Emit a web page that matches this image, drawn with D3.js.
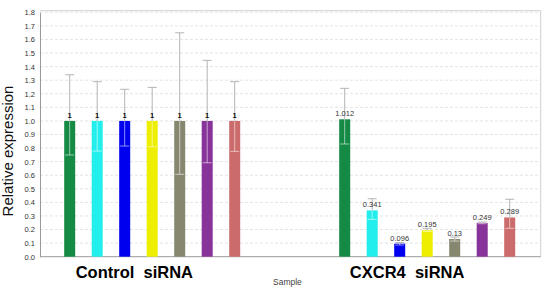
<!DOCTYPE html>
<html><head><meta charset="utf-8">
<script src="https://cdn.jsdelivr.net/npm/d3@7"></script>
<style>body{margin:0;background:#fff}svg{display:block}text{font-family:"Liberation Sans",Arial,sans-serif}</style>
</head><body><svg id="c" width="546" height="290"></svg>
<script>
const groups = ["Control  siRNA", "CXCR4  siRNA"];
const slots = [0,1,2,3,4,5,6, 10,11,12,13,14,15,16];
const colors = ["#148a45","#22eeee","#0000ee","#eeee00","#878770","#883399","#cc6b6b"];
const values = [1,1,1,1,1,1,1, 1.012,0.341,0.096,0.195,0.13,0.249,0.289];
const labels = ["1","1","1","1","1","1","1","1.012","0.341","0.096","0.195","0.13","0.249","0.289"];
const errHigh = [1.34,1.289,1.233,1.247,1.649,1.446,1.289, 1.24,0.427,0.104,0.209,0.145,0.255,0.423];
const errLow = [0.749,0.778,0.815,0.81,0.607,0.692,0.776, 0.83,0.275,0.086,0.185,0.115,0.243,0.209];
const yTicks = d3.range(0, 18.5, 1).map(d => d/10);

const svg = d3.select("#c");
const L = 40, R = 540.7, T = 10.7, B = 256.7;
const y = d3.scaleLinear().domain([0,1.8]).range([B, 12.3]);
const x = d3.scaleLinear().domain([0,16]).range([69.7, 509.7]);
const bw = 11;

// grid
svg.append("g").selectAll("line").data(yTicks.slice(1)).join("line")
  .attr("x1", L).attr("x2", R).attr("y1", d => y(d)).attr("y2", d => y(d))
  .attr("stroke", "#e4e4e4").attr("stroke-width", 1).attr("stroke-dasharray", "3,2");
// frame
svg.append("path").attr("d", `M${L},${T}H${R}V${B}`).attr("fill","none").attr("stroke","#cfcfcf");

// y axis
const ya = svg.append("g").attr("transform", `translate(${L},0)`)
  .call(d3.axisLeft(y).tickValues(yTicks).tickFormat(d3.format(".1f")).tickSize(0).tickPadding(5));
ya.select(".domain").attr("stroke","#9a9a9a");
ya.selectAll("text").attr("font-size", 7.5).attr("fill", "#333");
// x axis line
svg.append("line").attr("x1", L).attr("x2", R).attr("y1", B).attr("y2", B).attr("stroke", "#9a9a9a");

const idx = d3.range(values.length);
// bars
svg.append("g").selectAll("rect").data(idx).join("rect")
  .attr("x", i => x(slots[i]) - bw/2).attr("width", bw)
  .attr("y", i => y(values[i])).attr("height", i => B - y(values[i]))
  .attr("fill", i => colors[i % 7]);

// error bars
const eg = svg.append("g");
idx.forEach(i => {
  const cx = x(slots[i]);
  const top = y(errHigh[i]), bt = y(values[i]), lo = y(errLow[i]);
  eg.append("line").attr("x1", cx).attr("x2", cx).attr("y1", top).attr("y2", bt)
    .attr("stroke", "#b4b4b4").attr("stroke-width", 1);
  eg.append("line").attr("x1", cx - 4.5).attr("x2", cx + 4.5).attr("y1", top).attr("y2", top)
    .attr("stroke", "#b4b4b4").attr("stroke-width", 1);
  eg.append("line").attr("x1", cx).attr("x2", cx).attr("y1", bt).attr("y2", lo)
    .attr("stroke", "rgba(255,255,255,0.55)").attr("stroke-width", 1);
  eg.append("line").attr("x1", cx - 4.5).attr("x2", cx + 4.5).attr("y1", lo).attr("y2", lo)
    .attr("stroke", "rgba(255,255,255,0.55)").attr("stroke-width", 1);
});

// value labels
svg.append("g").selectAll("text").data(idx).join("text")
  .attr("x", i => x(slots[i])).attr("y", i => y(values[i]) - 3)
  .attr("text-anchor", "middle").attr("font-size", 7.5)
  .attr("fill", i => i < 7 ? "#111" : "#333")
  .attr("font-weight", i => i < 7 ? "bold" : "normal")
  .text(i => labels[i]);

// group labels
svg.append("text").attr("x", x(2.35)).attr("y", 278).attr("text-anchor","middle")
  .attr("font-size", 16.5).attr("font-weight","bold").attr("fill","#000")
  .style("white-space","pre").text(groups[0]);
svg.append("text").attr("x", x(12.27)).attr("y", 278).attr("text-anchor","middle")
  .attr("font-size", 16.5).attr("font-weight","bold").attr("fill","#000")
  .style("white-space","pre").text(groups[1]);
svg.append("text").attr("x", 273).attr("y", 284.5).attr("font-size", 8.5).attr("fill","#444").text("Sample");

// y title
svg.append("text").attr("transform", "translate(13,151) rotate(-90)").attr("text-anchor","middle")
  .attr("font-size", 15).attr("fill","#111").text("Relative expression");
</script></body></html>
